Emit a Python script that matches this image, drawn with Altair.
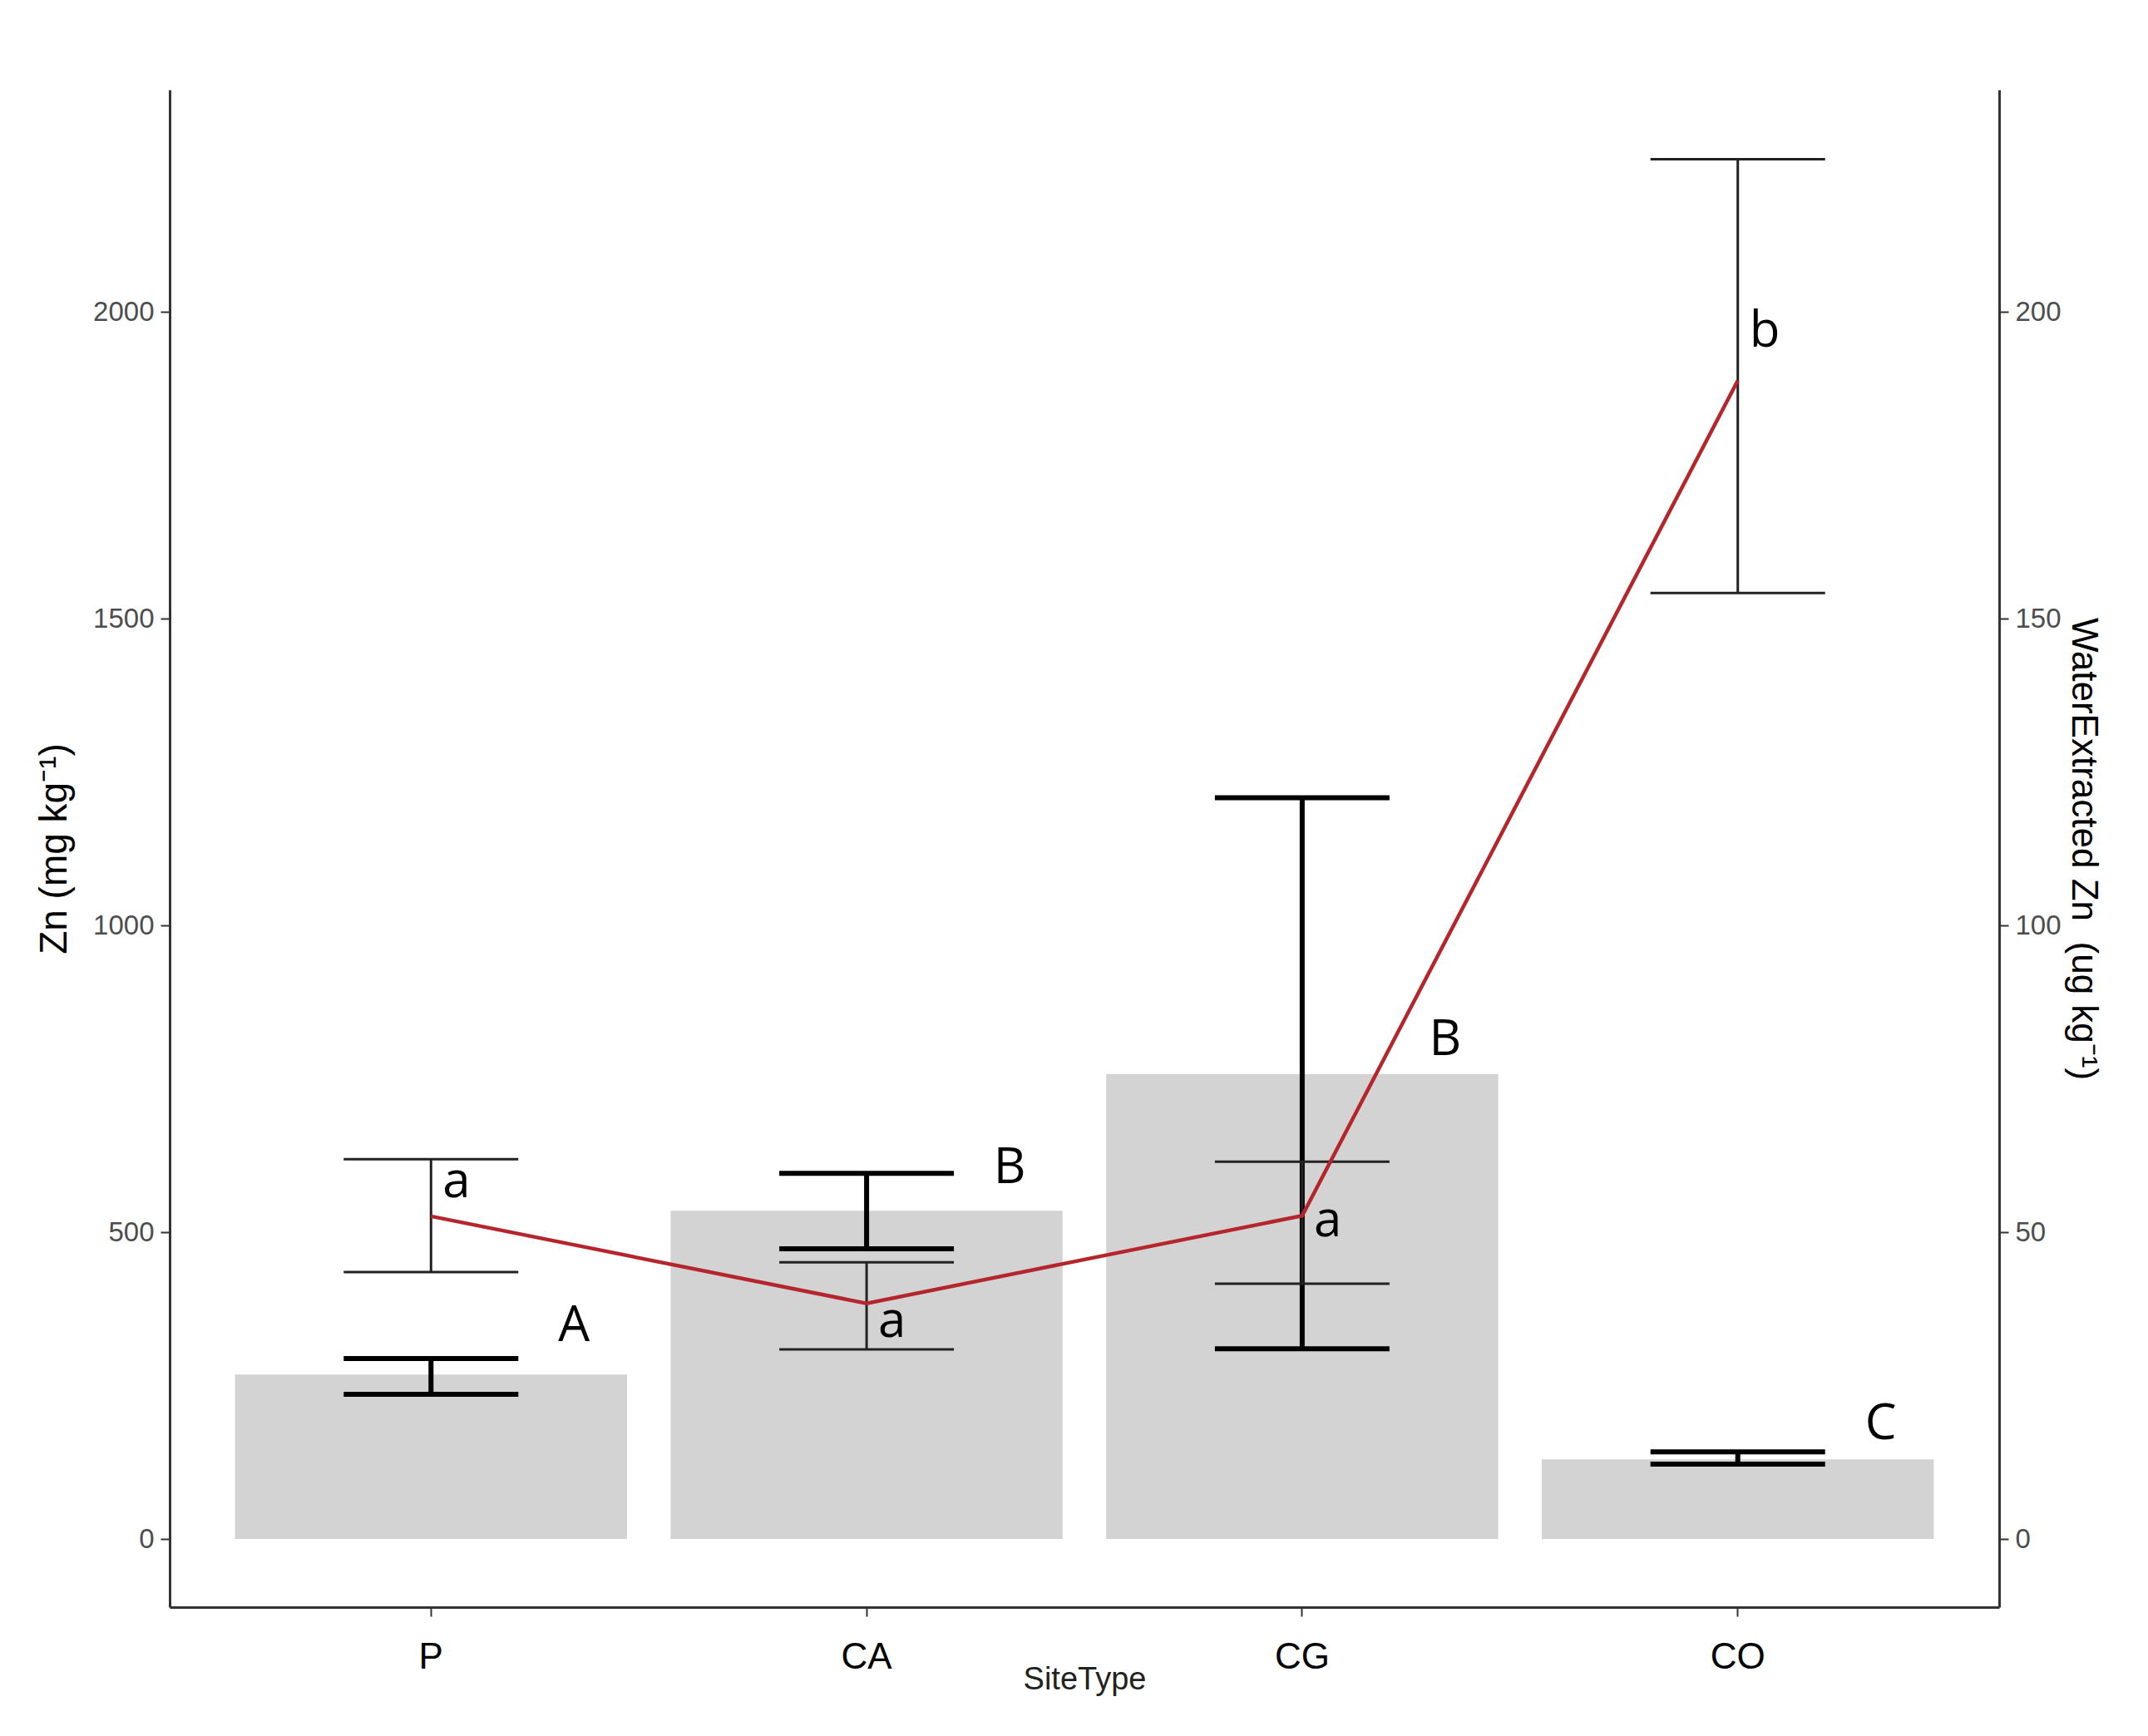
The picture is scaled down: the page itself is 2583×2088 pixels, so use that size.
import altair as alt
import pandas as pd

# ---- data ----
sites = ["P", "CA", "CG", "CO"]
zn_mean = [268, 535, 758, 130]
zn_low = [236, 473, 310, 122]
zn_high = [294, 596, 1208, 142]
water_mean = [52.6, 38.4, 52.7, 188.8]
water_low = [43.5, 30.9, 41.6, 154.2]
water_high = [61.9, 45.1, 61.5, 224.9]
upper_letters = ["A", "B", "B", "C"]
upper_letter_y = [347, 604, 813, 187]
lower_letters = ["a", "a", "a", "b"]
lower_letter_y = [58.1, 35.4, 51.8, 196.7]

left_ticks = [0, 500, 1000, 1500, 2000]
right_ticks = [0, 50, 100, 150, 200]

df = pd.DataFrame({
    "site": sites,
    "zn_mean": zn_mean, "zn_low": zn_low, "zn_high": zn_high,
    "w_mean": water_mean, "w_low": water_low, "w_high": water_high,
    "ul": upper_letters, "ul_y": upper_letter_y,
    "ll": lower_letters, "ll_y": lower_letter_y,
})

AX = dict(labelFont="Liberation Sans", labelFontSize=33, labelColor="#4D4D4D",
          tickColor="#333333", tickWidth=2, tickSize=11,
          domainColor="#333333", domainWidth=3, grid=False,
          titleFont="Liberation Sans", titleFontSize=40, titleColor="black",
          titleFontWeight="normal")

x_ax = {k: v for k, v in AX.items() if k not in ("labelFontSize", "labelColor", "titleColor", "titleFontSize")}
x_enc = alt.X("site:N", sort=sites,
              scale=alt.Scale(paddingInner=0.1, paddingOuter=0.15),
              axis=alt.Axis(title="SiteType", labelFontSize=44, labelColor="black",
                            labelPadding=27, titlePadding=-14, labelAngle=0,
                            titleFontSize=38, titleColor="#222222", **x_ax))

left_scale = alt.Scale(domain=[-111, 2362], nice=False, zero=False)
right_scale = alt.Scale(domain=[-11.1, 236.2], nice=False, zero=False)
left_axis = alt.Axis(title="Zn (mg kg⁻¹)", orient="left", values=left_ticks, format="d",
                     labelPadding=8, titlePadding=22, **{**AX, "titleFontSize": 46})
right_axis = alt.Axis(title="WaterExtracted Zn\u00a0\u00a0(ug kg⁻¹)", orient="right",
                      values=right_ticks, format="d",
                      labelPadding=8, titlePadding=4, **{**AX, "titleFontSize": 44})


def yl(field):
    return alt.Y(f"{field}:Q", scale=left_scale, axis=left_axis)


def yr(field):
    return alt.Y(f"{field}:Q", scale=right_scale, axis=right_axis)


base = alt.Chart(df)

bars = base.mark_bar(color="#D3D3D3").encode(x=x_enc, y=yl("zn_mean"))
bar_err = base.mark_rule(color="black", strokeWidth=6).encode(
    x=x_enc, y=yl("zn_low"), y2=alt.Y2("zn_high"))
bar_cap_lo = base.mark_tick(color="black", size=210, thickness=6, orient="horizontal",
                            opacity=1).encode(x=x_enc, y=yl("zn_low"))
bar_cap_hi = base.mark_tick(color="black", size=210, thickness=6, orient="horizontal",
                            opacity=1).encode(x=x_enc, y=yl("zn_high"))
up_text = base.mark_text(align="center", baseline="middle", dx=172, fontSize=60,
                         font="Open Sans", color="black").encode(
    x=x_enc, y=yl("ul_y"), text="ul:N")

left_layer = alt.layer(bars, bar_err, bar_cap_lo, bar_cap_hi, up_text)

w_err = base.mark_rule(color="#222222", strokeWidth=3).encode(
    x=x_enc, y=yr("w_low"), y2=alt.Y2("w_high"))
w_cap_lo = base.mark_tick(color="#222222", size=210, thickness=3, orient="horizontal",
                          opacity=1).encode(x=x_enc, y=yr("w_low"))
w_cap_hi = base.mark_tick(color="#222222", size=210, thickness=3, orient="horizontal",
                          opacity=1).encode(x=x_enc, y=yr("w_high"))
w_line = base.mark_line(color="#B5262C", strokeWidth=4.5).encode(
    x=x_enc, y=yr("w_mean"))
low_text = base.mark_text(align="left", baseline="middle", dx=14, fontSize=60,
                          font="Open Sans", color="black").encode(
    x=x_enc, y=yr("ll_y"), text="ll:N")

right_layer = alt.layer(w_err, w_cap_lo, w_cap_hi, w_line, low_text)

chart = alt.layer(left_layer, right_layer).resolve_scale(y="independent").properties(
    width=2200, height=1825,
    padding={"left": 196, "top": 100, "right": 171, "bottom": 147},
    autosize=alt.AutoSizeParams(type="none"),
    background="white",
).configure_view(strokeWidth=0)

chart.save("out.html", embed_options={"renderer": "svg", "actions": False})
